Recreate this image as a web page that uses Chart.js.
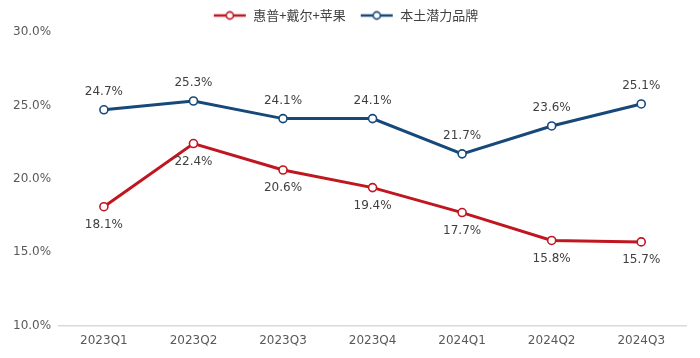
<!DOCTYPE html>
<html><head><meta charset="utf-8">
<script src="https://cdn.jsdelivr.net/npm/chart.js@4/dist/chart.umd.min.js"></script>
<style>html,body{margin:0;padding:0;background:#fff}#wrap{width:700px;height:358px}</style>
</head><body><div id="wrap"><canvas id="c" width="700" height="358"></canvas></div>
<script>
const categories = ['2023Q1','2023Q2','2023Q3','2023Q4','2024Q1','2024Q2','2024Q3'];
const seriesNames = ['惠普+戴尔+苹果','本土潜力品牌'];
const redValues = [18.1, 22.4, 20.6, 19.4, 17.7, 15.8, 15.7];
const blueValues = [24.7, 25.3, 24.1, 24.1, 21.7, 23.6, 25.1];
const yTicks = [10, 15, 20, 25, 30];

const RED = '#c0161f', BLUE = '#17487a';
function marker(color){
  const c = document.createElement('canvas'); c.width = 34; c.height = 12;
  const g = c.getContext('2d');
  g.strokeStyle = color; g.lineWidth = 2.5;
  g.beginPath(); g.moveTo(1,6); g.lineTo(33,6); g.stroke();
  g.fillStyle = '#fff'; g.lineWidth = 1.6;
  g.beginPath(); g.arc(17,6,3.6,0,Math.PI*2); g.fill(); g.stroke();
  return c;
}
const markers = [marker(RED), marker(BLUE)];
const labelPlugin = {
  id:'vlabels',
  afterDatasetsDraw(chart){
    const ctx = chart.ctx; ctx.save();
    ctx.font = '12px "DejaVu Sans", sans-serif'; ctx.fillStyle = '#404040';
    ctx.textAlign = 'center';
    chart.data.datasets.forEach((ds, i) => {
      const meta = chart.getDatasetMeta(i);
      meta.data.forEach((pt, j) => {
        const above = i === 1;
        ctx.textBaseline = above ? 'bottom' : 'top';
        ctx.fillText(ds.data[j].toFixed(1) + '%', pt.x, above ? pt.y - 12 : pt.y + 12);
      });
    });
    ctx.restore();
  }
};
new Chart(document.getElementById('c'), {
  type:'line',
  data:{ labels: categories, datasets:[
    {label: seriesNames[0], data: redValues, borderColor: RED, backgroundColor:'#fff', borderWidth:3,
     pointRadius:4, pointBorderWidth:1.6, pointBackgroundColor:'#fff', pointBorderColor:RED, tension:0},
    {label: seriesNames[1], data: blueValues, borderColor: BLUE, backgroundColor:'#fff', borderWidth:3,
     pointRadius:4, pointBorderWidth:1.6, pointBackgroundColor:'#fff', pointBorderColor:BLUE, tension:0}
  ]},
  options:{
    responsive:false, animation:false, devicePixelRatio:1,
    layout:{padding:{left:5, right:14, top:-5, bottom:2}},
    plugins:{
      legend:{ position:'top', labels:{ usePointStyle:true, pointStyleWidth:34,
        font:{size:13, family:'"Noto Sans CJK SC", sans-serif'}, color:'#404040', padding:14,
        generateLabels(chart){
          return chart.data.datasets.map((ds,i)=>({text:ds.label, pointStyle:markers[i], fillStyle:'#fff', strokeStyle:ds.borderColor, lineWidth:0, hidden:false, datasetIndex:i, fontColor:'#404040'}));
        } } },
      tooltip:{enabled:false}
    },
    scales:{
      x:{ offset:true, grid:{display:false, drawTicks:false}, border:{display:true, color:'#d9d9d9', width:1.5},
          ticks:{ color:'#595959', font:{size:12, family:'"DejaVu Sans", sans-serif'}, padding:8 } },
      y:{ min:10, max:30, afterBuildTicks(ax){ ax.ticks = yTicks.map(v=>({value:v})); },
          grid:{display:false, drawTicks:false}, border:{display:false},
          ticks:{ color:'#595959', font:{size:12, family:'"DejaVu Sans", sans-serif'}, padding:8,
                  callback:v=>v.toFixed(1)+'%' } }
    }
  },
  plugins:[labelPlugin]
});
</script></body></html>
